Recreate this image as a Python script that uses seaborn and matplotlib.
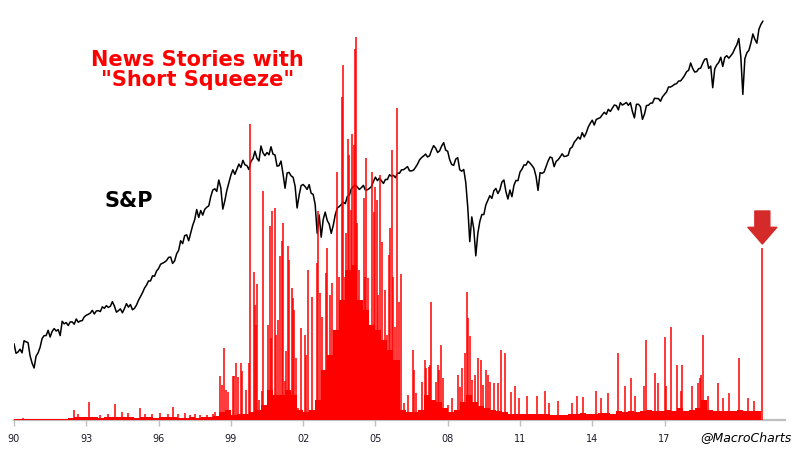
import numpy as np
import matplotlib
matplotlib.use("Agg")
import matplotlib.pyplot as plt
import seaborn as sns

# S&P 500, month-end closes Jan-1990 .. Jan-2021 (big intra-month turns swapped in)
sp_start = 353
sp_values = [
    329, 332, 339, 330, 361, 358, 356, 323, 306, 295, 322, 330,          # 1990
    344, 367, 375, 375, 390, 371, 387, 395, 388, 392, 375, 417,          # 1991
    409, 413, 404, 415, 415, 408, 424, 414, 418, 419, 431, 436,          # 1992
    439, 443, 452, 440, 450, 451, 448, 464, 459, 468, 462, 466,          # 1993
    482, 467, 446, 451, 457, 444, 458, 475, 463, 472, 454, 459,          # 1994
    470, 487, 501, 515, 533, 545, 562, 562, 584, 582, 605, 616,          # 1995
    636, 641, 646, 654, 669, 671, 640, 652, 687, 705, 757, 741,          # 1996
    786, 791, 757, 801, 848, 885, 954, 899, 947, 915, 955, 970,          # 1997
    980, 1049, 1102, 1112, 1091, 1187, 1121, 957, 1017, 1099, 1164, 1229,  # 1998
    1280, 1238, 1286, 1335, 1302, 1373, 1329, 1320, 1283, 1363, 1389, 1469,  # 1999
    1394, 1366, 1527, 1452, 1421, 1455, 1431, 1518, 1437, 1429, 1315, 1320,  # 2000
    1366, 1240, 1117, 1249, 1256, 1224, 1211, 1134, 965, 1060, 1139, 1148,   # 2001
    1130, 1107, 1147, 1076, 1067, 990, 800, 916, 777, 886, 936, 880,         # 2002
    856, 800, 848, 917, 964, 975, 990, 1008, 996, 1051, 1058, 1112,          # 2003
    1131, 1145, 1126, 1107, 1121, 1141, 1102, 1104, 1115, 1130, 1174, 1212,  # 2004
    1181, 1204, 1181, 1157, 1192, 1191, 1234, 1220, 1229, 1207, 1249, 1248,  # 2005
    1280, 1281, 1295, 1311, 1270, 1270, 1277, 1304, 1336, 1378, 1401, 1418,  # 2006
    1438, 1407, 1421, 1482, 1531, 1503, 1455, 1474, 1527, 1565, 1481, 1468,  # 2007
    1379, 1331, 1323, 1386, 1400, 1280, 1267, 1283, 1166, 969, 752, 903,     # 2008
    826, 677, 798, 873, 919, 919, 987, 1021, 1057, 1036, 1096, 1115,         # 2009
    1074, 1104, 1169, 1187, 1089, 1031, 1102, 1049, 1141, 1183, 1181, 1258,  # 2010
    1286, 1327, 1326, 1364, 1345, 1321, 1292, 1219, 1099, 1253, 1247, 1258,  # 2011
    1312, 1366, 1408, 1398, 1310, 1362, 1379, 1407, 1441, 1412, 1416, 1426,  # 2012
    1498, 1515, 1569, 1598, 1631, 1606, 1686, 1633, 1682, 1757, 1806, 1848,  # 2013
    1783, 1859, 1872, 1884, 1924, 1960, 1931, 2003, 1972, 2018, 2068, 2059,  # 2014
    1995, 2105, 2068, 2086, 2107, 2063, 2104, 1972, 1880, 2079, 2080, 2044,  # 2015
    1860, 1932, 2060, 2065, 2097, 2099, 2174, 2171, 2168, 2126, 2199, 2239,  # 2016
    2279, 2364, 2363, 2384, 2412, 2423, 2470, 2472, 2519, 2575, 2648, 2674,  # 2017
    2824, 2714, 2641, 2648, 2705, 2718, 2816, 2902, 2914, 2712, 2760, 2351,  # 2018
    2704, 2784, 2834, 2946, 2752, 2942, 2980, 2926, 2977, 3038, 3141, 3231,  # 2019
    3386, 2954, 2237, 2912, 3044, 3100, 3271, 3500, 3363, 3270, 3622, 3756,  # 2020
    3850,                                                                    # 2021
]

# background level of "short squeeze" stories, one value per quarter from 1990 Q1
base_levels = [
    1, 1, 1, 1,   1, 1, 1, 1,   1, 2, 3, 3,   3, 3, 2, 3,        # 90-93
    3, 3, 3, 3,   2, 3, 3, 2,   3, 3, 3, 2,   2, 3, 2, 3,        # 94-97
    3, 4, 8, 10,  5, 6, 6, 8,                                    # 98-99
    10, 15, 30, 25,   25, 30, 25, 10,   8, 10, 20, 50,           # 00-02
    65, 90, 120, 150,   155, 120, 110, 95,   90, 80, 70, 60,     # 03-05
    10, 8, 8, 10,   25, 20, 18, 12,   8, 10, 18, 25,             # 06-08
    18, 14, 12, 10,   9, 8, 6, 6,   6, 6, 6, 6,                  # 09-11
    6, 5, 5, 5,   6, 6, 7, 6,   6, 7, 7, 6,                      # 12-14
    9, 8, 9, 8,   9, 10, 9, 9,   10, 9, 12, 9,                   # 15-17
    10, 12, 20, 10,   9, 9, 9, 9,   10, 9, 9, 9,                 # 18-20
]

# individual spikes in story counts
spike_years = [
    1990.37, 1992.49, 1992.66, 1993.11, 1993.57, 1993.90, 1994.19, 1994.48,
    1994.73, 1995.23, 1995.44, 1995.73, 1996.06, 1996.39, 1996.60, 1996.80,
    1997.10, 1997.30, 1997.51, 1997.72, 1998.01, 1998.26, 1998.34,
    1998.55, 1998.63, 1998.71, 1998.80, 1998.88, 1999.09, 1999.13, 1999.21,
    1999.29, 1999.42, 1999.46, 1999.63, 1999.75, 1999.79, 1999.96, 2000.00,
    2000.04, 2000.08, 2000.17, 2000.29, 2000.33, 2000.54, 2000.62, 2000.66,
    2000.71, 2000.83, 2000.87, 2000.95, 2001.04, 2001.12, 2001.16, 2001.24,
    2001.29, 2001.37, 2001.41, 2001.54, 2001.58, 2001.62, 2001.70, 2001.78,
    2001.91, 2002.06, 2002.12, 2002.22, 2002.37, 2002.56, 2002.63, 2002.70,
    2002.79, 2002.95, 2003.00, 2003.11, 2003.20, 2003.29, 2003.40, 2003.50,
    2003.62, 2003.66, 2003.73, 2003.80, 2003.87, 2003.91, 2003.97, 2004.04,
    2004.10, 2004.15, 2004.19, 2004.24, 2004.30, 2004.39, 2004.44, 2004.52,
    2004.58, 2004.63, 2004.70, 2004.77, 2004.87, 2004.94, 2004.99, 2005.06,
    2005.12, 2005.19, 2005.27, 2005.38, 2005.49, 2005.56, 2005.60, 2005.67,
    2005.74, 2005.81, 2005.91, 2005.96, 2006.07, 2006.19, 2006.34, 2006.57,
    2006.61, 2006.68, 2006.92, 2007.07, 2007.12, 2007.21, 2007.26, 2007.32,
    2007.52, 2007.61, 2007.66, 2007.73, 2007.81, 2008.02, 2008.19, 2008.41,
    2008.51, 2008.60, 2008.73, 2008.82, 2008.86, 2008.93, 2008.99, 2009.12,
    2009.27, 2009.38, 2009.47, 2009.57, 2009.66, 2009.75, 2009.92, 2010.08,
    2010.22, 2010.39, 2010.63, 2010.80, 2010.97, 2011.30, 2011.71, 2012.05,
    2012.21, 2012.59, 2013.18, 2013.35, 2013.62, 2014.16, 2014.37, 2014.66,
    2015.07, 2015.37, 2015.62, 2015.78, 2016.15, 2016.24, 2016.61, 2016.73,
    2017.02, 2017.07, 2017.28, 2017.52, 2017.69, 2017.74, 2018.15, 2018.39,
    2018.48, 2018.52, 2018.61, 2018.81, 2019.22, 2019.43, 2019.68, 2020.10,
    2020.47, 2020.72, 2021.06,
]
spike_counts = [
    2, 10, 6, 18, 5, 6, 16, 8,
    7, 12, 6, 6, 7, 6, 13, 6,
    7, 5, 6, 5, 5, 6, 8,
    44, 35, 72, 30, 28, 44, 44, 57,
    43, 57, 49, 30, 57, 296, 148, 115,
    95, 136, 20, 29, 229, 95, 194, 82,
    209, 212, 85, 100, 164, 179, 197, 39,
    69, 174, 160, 132, 122, 110, 62, 12,
    92, 85, 65, 150, 123, 157, 209, 127,
    103, 147, 172, 125, 137, 73, 248, 143,
    323, 355, 143, 187, 281, 265, 210, 286,
    275, 371, 383, 197, 150, 110, 107, 222,
    143, 262, 142, 78, 248, 208, 233, 220,
    125, 245, 178, 130, 85, 165, 192, 270,
    143, 93, 312, 118, 146, 17, 25, 70,
    50, 27, 38, 60, 52, 53, 55, 118,
    38, 55, 50, 75, 42, 15, 22, 45,
    33, 52, 67, 128, 102, 84, 40, 45,
    62, 60, 35, 50, 45, 38, 37, 37,
    70, 67, 28, 34, 22, 24, 24, 29,
    17, 19, 17, 24, 23, 29, 22, 27,
    67, 34, 42, 24, 34, 80, 47, 37,
    83, 34, 93, 55, 29, 55, 34, 37,
    42, 45, 85, 24, 37, 22, 27, 62,
    22, 19, 172,
]

tick_years = [1990, 1993, 1996, 1999, 2002, 2005, 2008, 2011, 2014, 2017]
tick_labels = ["90", "93", "96", "99", "02", "05", "08", "11", "14", "17"]

sns.set_style("white")

W, H = 800, 450
fig = plt.figure(figsize=(8, 4.5), dpi=100)
ax = fig.add_axes([14 / W, 30 / H, 771 / W, 410 / H])

# S&P line (log scale) on the bottom axis
sp_dates = [1990.0] + list(1990 + np.arange(1, len(sp_values) + 1) / 12)
sp_y = [sp_start] + sp_values
sns.lineplot(x=sp_dates, y=sp_y, ax=ax, color="black", linewidth=1.1)
ax.set_yscale("log")
ax.set_ylim(200.7, 4180)
ax.set_xlim(1990, 2022)
ax.set_yticks([])
ax.minorticks_off()
ax.set_xticks(tick_years)
ax.set_xticklabels(tick_labels)
ax.tick_params(axis="x", direction="out", length=4, width=1, color="#BFBFBF",
               labelsize=7, labelcolor="#1a1a2a", pad=6, bottom=True)
for side in ["top", "left", "right"]:
    ax.spines[side].set_visible(False)
ax.spines["bottom"].set_color("#BFBFBF")
ax.spines["bottom"].set_linewidth(1.6)
ax.set_xlabel("")
ax.set_ylabel("")

# news stories on a twin axis, drawn above the line
ax2 = ax.twinx()
base_x = 1990 + np.arange(len(base_levels)) * 0.25
ax2.bar(base_x, base_levels, width=0.25, align="edge", color="#FF0000", linewidth=0)
ax2.vlines(spike_years, 0, spike_counts, color="#FF0000", linewidth=1.1)
ax2.set_ylim(0, 410)
ax2.set_xlim(1990, 2022)
ax2.set_yticks([])
for side in ["top", "left", "right", "bottom"]:
    ax2.spines[side].set_visible(False)

# arrow over the latest spike
ax2.annotate("", xy=(spike_years[-1], 176), xytext=(spike_years[-1], 209),
             arrowprops=dict(arrowstyle="simple,head_length=0.6,head_width=1.04,tail_width=0.54",
                             mutation_scale=20, color="#D42A2A", shrinkA=0, shrinkB=0))

fig.text(197 / W, 1 - 60 / H, "News Stories with", color="#FF0000", fontsize=15,
         fontweight="bold", ha="center", va="center")
fig.text(198 / W, 1 - 80 / H, '"Short Squeeze"', color="#FF0000", fontsize=15,
         fontweight="bold", ha="center", va="center")
fig.text(129 / W, 1 - 201 / H, "S&P", color="black", fontsize=15,
         fontweight="bold", ha="center", va="center")
fig.text(746 / W, 1 - 438 / H, "@MacroCharts", color="black", fontsize=9,
         style="italic", ha="center", va="center")

fig.savefig("out.png", dpi=100, facecolor="white")
